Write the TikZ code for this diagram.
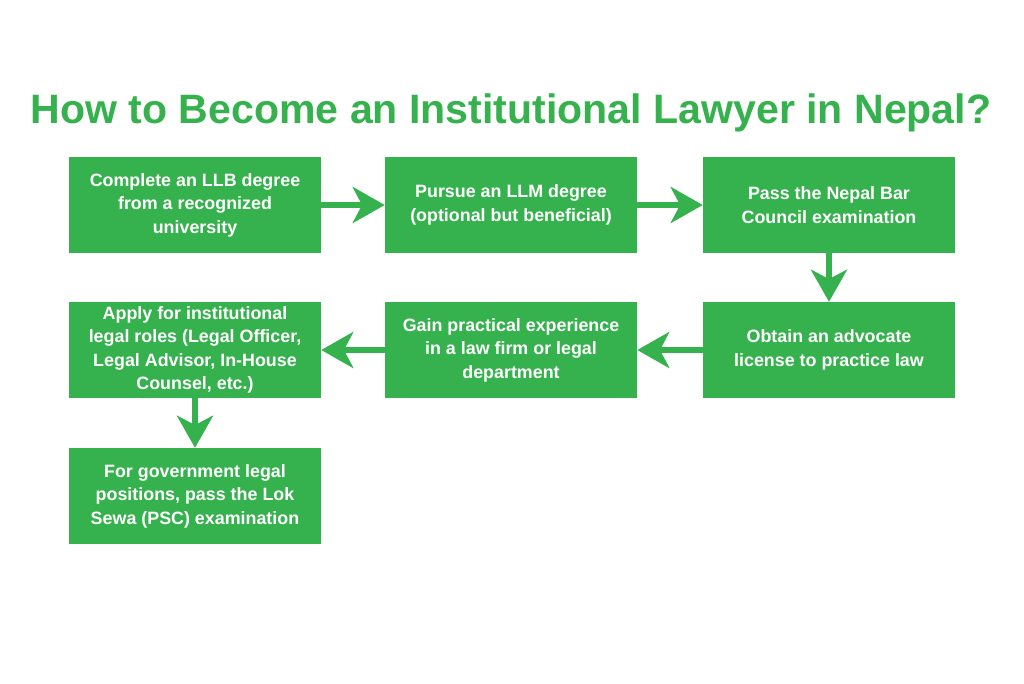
\documentclass[tikz,border=0pt]{standalone}
\usepackage{fontspec}
\setmainfont{Liberation Sans}
\usetikzlibrary{arrows.meta}
\definecolor{gr}{RGB}{53,178,77}
\tikzset{
  stepbox/.style={fill=gr, draw=none, minimum width=252*0.75pt, minimum height=96*0.75pt,
    text=white, align=center, inner sep=0pt,
    font=\bfseries\fontsize{13.4}{17.6}\selectfont},
  flow/.style={draw=gr, line width=4.5pt, -{Stealth[length=24pt,width=27pt,inset=7pt]}}
}
\begin{document}
\begin{tikzpicture}[x=0.75pt,y=-0.75pt]
\useasboundingbox (0,0) rectangle (1024,683);
\node[text=gr, font=\bfseries\fontsize{30.8}{36}\selectfont] (title) at (511,113) {How to Become an Institutional Lawyer in Nepal?};
\node[stepbox] (b1) at (195,205) {Complete an LLB degree\\from a recognized\\university};
\node[stepbox] (b2) at (511,205) {Pursue an LLM degree\\(optional but beneficial)};
\node[stepbox] (b3) at (829,205) {Pass the Nepal Bar\\Council examination};
\node[stepbox] (b6) at (829,350) {Obtain an advocate\\license to practice law};
\node[stepbox] (b5) at (511,350) {Gain practical experience\\in a law firm or legal\\department};
\node[stepbox] (b4) at (195,350) {Apply for institutional\\legal roles (Legal Officer,\\Legal Advisor, In-House\\Counsel, etc.)};
\node[stepbox] (b7) at (195,496) {For government legal\\positions, pass the Lok\\Sewa (PSC) examination};
\draw[flow] (b1) -- (b2);
\draw[flow] (b2) -- (b3);
\draw[flow] (b3) -- (b6);
\draw[flow] (b6) -- (b5);
\draw[flow] (b5) -- (b4);
\draw[flow] (b4) -- (b7);
\end{tikzpicture}
\end{document}
